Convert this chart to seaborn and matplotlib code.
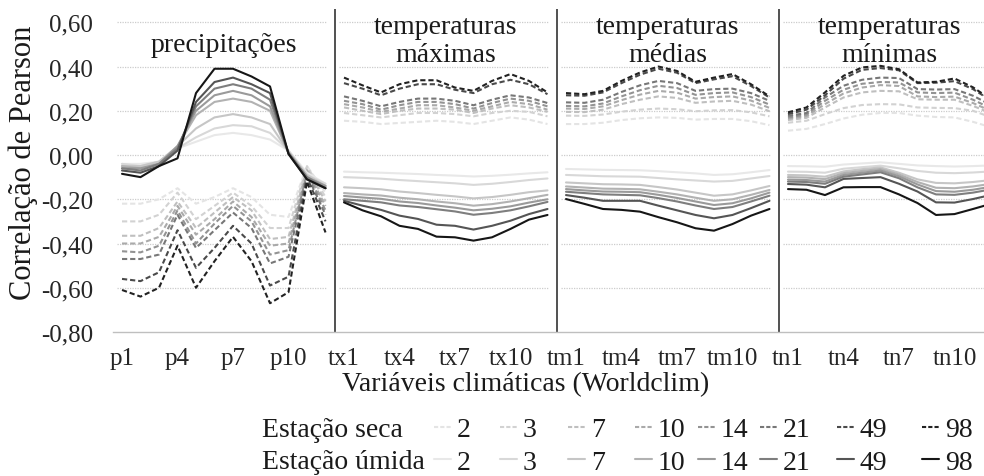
import numpy as np
import pandas as pd
import matplotlib
matplotlib.use("Agg")
import matplotlib.pyplot as plt
from matplotlib.lines import Line2D
import seaborn as sns

# variáveis climáticas: 4 grupos x 12 meses
grupos = ["p", "tx", "tm", "tn"]
variaveis = [f"{g}{m}" for g in grupos for m in range(1, 13)]
titulos = ["precipitações", "temperaturas\nmáximas", "temperaturas\nmédias", "temperaturas\nmínimas"]
janelas = [2, 3, 7, 10, 14, 21, 49, 98]
y_ticks = [0.6, 0.4, 0.2, 0.0, -0.2, -0.4, -0.6, -0.8]

# estação seca (linhas tracejadas) -> p | tx | tm | tn
seca_2 = [-0.22, -0.22, -0.20, -0.15, -0.22, -0.19, -0.15, -0.19, -0.27, -0.28, -0.05, -0.17,
          0.155, 0.15, 0.14, 0.145, 0.15, 0.155, 0.15, 0.14, 0.155, 0.17, 0.16, 0.14,
          0.14, 0.14, 0.146, 0.158, 0.166, 0.17, 0.168, 0.16, 0.163, 0.163, 0.153, 0.135,
          0.11, 0.118, 0.14, 0.165, 0.182, 0.19, 0.19, 0.178, 0.172, 0.17, 0.15, 0.125]
seca_3 = [-0.30, -0.30, -0.27, -0.17, -0.29, -0.23, -0.17, -0.23, -0.33, -0.33, -0.05, -0.19,
          0.19, 0.18, 0.17, 0.18, 0.19, 0.19, 0.185, 0.175, 0.19, 0.20, 0.195, 0.175,
          0.178, 0.177, 0.183, 0.196, 0.205, 0.21, 0.207, 0.198, 0.202, 0.203, 0.193, 0.175,
          0.146, 0.155, 0.185, 0.212, 0.226, 0.23, 0.229, 0.215, 0.213, 0.212, 0.20, 0.17]
seca_7 = [-0.365, -0.365, -0.33, -0.21, -0.33, -0.26, -0.19, -0.25, -0.38, -0.37, -0.06, -0.21,
          0.215, 0.20, 0.185, 0.20, 0.21, 0.21, 0.205, 0.19, 0.21, 0.225, 0.215, 0.195,
          0.195, 0.194, 0.205, 0.23, 0.25, 0.265, 0.258, 0.236, 0.242, 0.245, 0.228, 0.198,
          0.158, 0.168, 0.215, 0.26, 0.283, 0.29, 0.288, 0.252, 0.25, 0.25, 0.222, 0.188]
seca_10 = [-0.40, -0.40, -0.37, -0.23, -0.36, -0.29, -0.21, -0.28, -0.41, -0.40, -0.07, -0.23,
           0.23, 0.215, 0.195, 0.21, 0.225, 0.225, 0.215, 0.20, 0.22, 0.24, 0.23, 0.205,
           0.21, 0.208, 0.22, 0.248, 0.273, 0.29, 0.282, 0.255, 0.262, 0.265, 0.246, 0.213,
           0.165, 0.176, 0.23, 0.278, 0.305, 0.316, 0.312, 0.265, 0.262, 0.264, 0.235, 0.198]
seca_14 = [-0.435, -0.44, -0.41, -0.25, -0.40, -0.31, -0.23, -0.30, -0.45, -0.43, -0.08, -0.25,
           0.245, 0.23, 0.205, 0.225, 0.24, 0.24, 0.23, 0.21, 0.235, 0.255, 0.245, 0.22,
           0.222, 0.22, 0.233, 0.265, 0.293, 0.313, 0.303, 0.272, 0.28, 0.283, 0.262, 0.228,
           0.17, 0.183, 0.245, 0.295, 0.322, 0.33, 0.328, 0.283, 0.28, 0.282, 0.25, 0.21]
seca_21 = [-0.47, -0.47, -0.45, -0.27, -0.42, -0.34, -0.26, -0.33, -0.49, -0.46, -0.09, -0.27,
           0.265, 0.245, 0.22, 0.24, 0.255, 0.255, 0.245, 0.225, 0.25, 0.27, 0.26, 0.235,
           0.238, 0.236, 0.25, 0.285, 0.315, 0.335, 0.325, 0.29, 0.298, 0.30, 0.28, 0.245,
           0.177, 0.19, 0.26, 0.313, 0.34, 0.35, 0.348, 0.298, 0.296, 0.298, 0.268, 0.225]
seca_49 = [-0.56, -0.57, -0.53, -0.34, -0.51, -0.42, -0.32, -0.40, -0.59, -0.55, -0.10, -0.30,
           0.325, 0.30, 0.27, 0.30, 0.32, 0.32, 0.295, 0.28, 0.32, 0.34, 0.32, 0.275,
           0.27, 0.268, 0.283, 0.325, 0.363, 0.39, 0.372, 0.325, 0.342, 0.356, 0.312, 0.26,
           0.185, 0.205, 0.27, 0.345, 0.385, 0.393, 0.383, 0.325, 0.327, 0.334, 0.298, 0.245]
seca_98 = [-0.61, -0.64, -0.60, -0.41, -0.60, -0.48, -0.37, -0.48, -0.67, -0.62, -0.12, -0.35,
           0.35, 0.315, 0.283, 0.32, 0.338, 0.338, 0.305, 0.29, 0.335, 0.366, 0.335, 0.283,
           0.28, 0.275, 0.29, 0.335, 0.373, 0.40, 0.38, 0.331, 0.35, 0.366, 0.32, 0.265,
           0.193, 0.215, 0.283, 0.358, 0.396, 0.403, 0.388, 0.328, 0.331, 0.346, 0.306, 0.25]

# estação úmida (linhas contínuas) -> p | tx | tm | tn
umida_2 = [-0.04, -0.04, -0.03, 0.03, 0.06, 0.09, 0.10, 0.09, 0.07, 0.02, -0.08, -0.13,
           -0.075, -0.078, -0.08, -0.083, -0.086, -0.09, -0.093, -0.097, -0.094, -0.089, -0.083, -0.078,
           -0.063, -0.065, -0.067, -0.068, -0.069, -0.073, -0.078, -0.083, -0.09, -0.087, -0.078, -0.068,
           -0.05, -0.051, -0.053, -0.043, -0.038, -0.033, -0.04, -0.047, -0.05, -0.052, -0.05, -0.047]
umida_3 = [-0.04, -0.05, -0.03, 0.03, 0.08, 0.12, 0.135, 0.13, 0.10, 0.02, -0.09, -0.13,
           -0.10, -0.103, -0.107, -0.113, -0.118, -0.123, -0.128, -0.135, -0.13, -0.122, -0.113, -0.106,
           -0.09, -0.093, -0.096, -0.097, -0.098, -0.104, -0.11, -0.115, -0.12, -0.117, -0.106, -0.095,
           -0.075, -0.076, -0.08, -0.062, -0.055, -0.048, -0.06, -0.072, -0.08, -0.082, -0.079, -0.074]
umida_7 = [-0.05, -0.05, -0.03, 0.04, 0.12, 0.17, 0.185, 0.17, 0.14, 0.015, -0.09, -0.14,
           -0.146, -0.15, -0.155, -0.165, -0.172, -0.18, -0.187, -0.196, -0.19, -0.18, -0.168, -0.16,
           -0.124, -0.128, -0.132, -0.133, -0.135, -0.145, -0.156, -0.17, -0.184, -0.178, -0.16, -0.14,
           -0.09, -0.092, -0.098, -0.074, -0.064, -0.056, -0.08, -0.11, -0.126, -0.128, -0.122, -0.113]
umida_10 = [-0.05, -0.06, -0.04, 0.04, 0.18, 0.24, 0.255, 0.24, 0.20, 0.01, -0.10, -0.14,
            -0.172, -0.178, -0.183, -0.193, -0.20, -0.21, -0.218, -0.229, -0.222, -0.21, -0.195, -0.18,
            -0.142, -0.147, -0.152, -0.153, -0.155, -0.166, -0.178, -0.193, -0.207, -0.20, -0.18, -0.158,
            -0.10, -0.102, -0.109, -0.082, -0.072, -0.063, -0.088, -0.122, -0.148, -0.15, -0.142, -0.13]
umida_14 = [-0.06, -0.06, -0.04, 0.04, 0.20, 0.27, 0.29, 0.27, 0.22, 0.01, -0.10, -0.14,
            -0.185, -0.192, -0.198, -0.21, -0.217, -0.228, -0.238, -0.25, -0.243, -0.232, -0.215, -0.20,
            -0.154, -0.16, -0.165, -0.166, -0.168, -0.18, -0.194, -0.21, -0.226, -0.218, -0.196, -0.17,
            -0.111, -0.113, -0.12, -0.09, -0.08, -0.07, -0.096, -0.133, -0.163, -0.166, -0.157, -0.143]
umida_21 = [-0.06, -0.07, -0.04, 0.03, 0.22, 0.30, 0.32, 0.30, 0.25, 0.01, -0.10, -0.15,
            -0.20, -0.207, -0.214, -0.228, -0.235, -0.245, -0.255, -0.27, -0.262, -0.25, -0.232, -0.212,
            -0.166, -0.172, -0.178, -0.18, -0.182, -0.195, -0.21, -0.228, -0.244, -0.235, -0.21, -0.184,
            -0.12, -0.122, -0.13, -0.098, -0.088, -0.078, -0.105, -0.146, -0.178, -0.18, -0.17, -0.155]
umida_49 = [-0.07, -0.08, -0.05, 0.02, 0.24, 0.33, 0.35, 0.32, 0.28, 0.005, -0.11, -0.15,
            -0.207, -0.229, -0.248, -0.274, -0.289, -0.315, -0.32, -0.337, -0.32, -0.297, -0.267, -0.244,
            -0.181, -0.193, -0.207, -0.207, -0.207, -0.229, -0.25, -0.271, -0.286, -0.271, -0.24, -0.207,
            -0.131, -0.134, -0.146, -0.108, -0.104, -0.10, -0.13, -0.165, -0.214, -0.215, -0.199, -0.18]
umida_98 = [-0.085, -0.10, -0.05, -0.015, 0.28, 0.39, 0.39, 0.355, 0.31, 0.005, -0.11, -0.15,
            -0.214, -0.25, -0.277, -0.32, -0.334, -0.369, -0.372, -0.387, -0.372, -0.334, -0.292, -0.271,
            -0.199, -0.221, -0.244, -0.248, -0.256, -0.281, -0.304, -0.331, -0.342, -0.312, -0.274, -0.244,
            -0.154, -0.157, -0.181, -0.146, -0.145, -0.145, -0.178, -0.217, -0.271, -0.267, -0.244, -0.22]

seca = dict(zip(janelas, [seca_2, seca_3, seca_7, seca_10, seca_14, seca_21, seca_49, seca_98]))
umida = dict(zip(janelas, [umida_2, umida_3, umida_7, umida_10, umida_14, umida_21, umida_49, umida_98]))

cinzas_seca = ["#e4e4e4", "#d2d2d2", "#bfbfbf", "#aaaaaa", "#939393", "#777777", "#4a4a4a", "#222222"]
cinzas_umida = ["#e8e8e8", "#d8d8d8", "#c6c6c6", "#b2b2b2", "#9a9a9a", "#7e7e7e", "#555555", "#161616"]

linhas = []
for est, dados in [("seca", seca), ("úmida", umida)]:
    for w in janelas:
        for i, v in enumerate(dados[w]):
            linhas.append({"pos": i, "grupo": i // 12, "estacao": est,
                           "serie": f"{est} {w}", "r": v})
df = pd.DataFrame(linhas)

ordem = [f"seca {w}" for w in janelas] + [f"úmida {w}" for w in janelas]
cores = dict(zip(ordem, cinzas_seca + cinzas_umida))
tracos = {"seca": (2.5, 1.4), "úmida": ""}

sns.set_theme(style="white")
plt.rcParams["font.family"] = ["Liberation Serif", "DejaVu Serif"]
plt.rcParams["text.color"] = "#1a1a1a"

fig = plt.figure(figsize=(9.84, 4.77), dpi=100)
ax = fig.add_axes([0.1146, 0.3019, 0.9024, 0.6771])

# grade pontilhada por painel
grade = y_ticks[:-1]
for g in range(4):
    ax.hlines(grade, 12 * g - 0.25, 12 * g + 11.1, colors="#cccccc",
              linestyles=(0, (1, 1)), linewidth=0.9, zorder=0)

sns.lineplot(data=df, x="pos", y="r", hue="serie", hue_order=ordem,
             style="estacao", units="grupo", estimator=None, sort=False,
             palette=cores, dashes=tracos, linewidth=1.5, legend=False, ax=ax)

for xv in [11.5, 23.5, 35.5]:
    ax.axvline(xv, color="#333333", linewidth=1.2)

# títulos dos painéis
for g, t in enumerate(titulos):
    yt = 0.50 if "\n" not in t else 0.517
    ax.text(12 * g + 5.5, yt, t, ha="center", va="center", fontsize=20,
            linespacing=1.15)

ax.set_xlim(-0.5, 47.5)
ax.set_ylim(-0.8, 0.66)
ax.set_xlabel("")
ax.set_ylabel("")

ax.set_yticks(y_ticks)
ax.set_yticklabels([f"{v:.2f}".replace(".", ",") for v in y_ticks])
ax.tick_params(axis="y", length=0, pad=14, labelsize=18)

ax.set_xticks(np.arange(-0.5, 48, 1))
ax.tick_params(axis="x", which="major", length=6, width=1, color="#bfbfbf",
               labelbottom=False, direction="out")
ax.set_xticks(np.arange(0, 48, 3), minor=True)
ax.set_xticklabels([variaveis[i] for i in range(0, 48, 3)], minor=True)
ax.tick_params(axis="x", which="minor", length=0, pad=11, labelsize=18)

for s in ["top", "right", "left"]:
    ax.spines[s].set_visible(False)
ax.spines["bottom"].set_color("#bfbfbf")
ax.spines["bottom"].set_linewidth(1)

fig.text(23 / 984, 1 - 163 / 477, "Correlação de Pearson", rotation=90,
         ha="center", va="center", fontsize=22)
fig.text(526 / 984, 1 - 385 / 477, "Variáveis climáticas (Worldclim)",
         ha="center", va="center", fontsize=20)

# legenda: uma coluna por janela
y_leg = 1 - 447 / 477
fig.text(262 / 984, 1 - 431 / 477, "Estação seca", ha="left", va="center", fontsize=20)
fig.text(262 / 984, 1 - 463 / 477, "Estação úmida", ha="left", va="center", fontsize=20)
x_leg = [434, 500, 568, 635, 698, 760, 837, 922]
for k, w in enumerate(janelas):
    h1 = Line2D([], [], color=cinzas_seca[k], linewidth=1.5, dashes=(2, 1))
    h2 = Line2D([], [], color=cinzas_umida[k], linewidth=1.5)
    fig.legend(handles=[h1, h2], labels=[str(w), str(w)], loc="center left",
               bbox_to_anchor=(x_leg[k] / 984, y_leg), frameon=False,
               fontsize=20, handlelength=0.62, handletextpad=0.2,
               labelspacing=0.27, borderpad=0, borderaxespad=0)

fig.savefig("out.png", dpi=100)
